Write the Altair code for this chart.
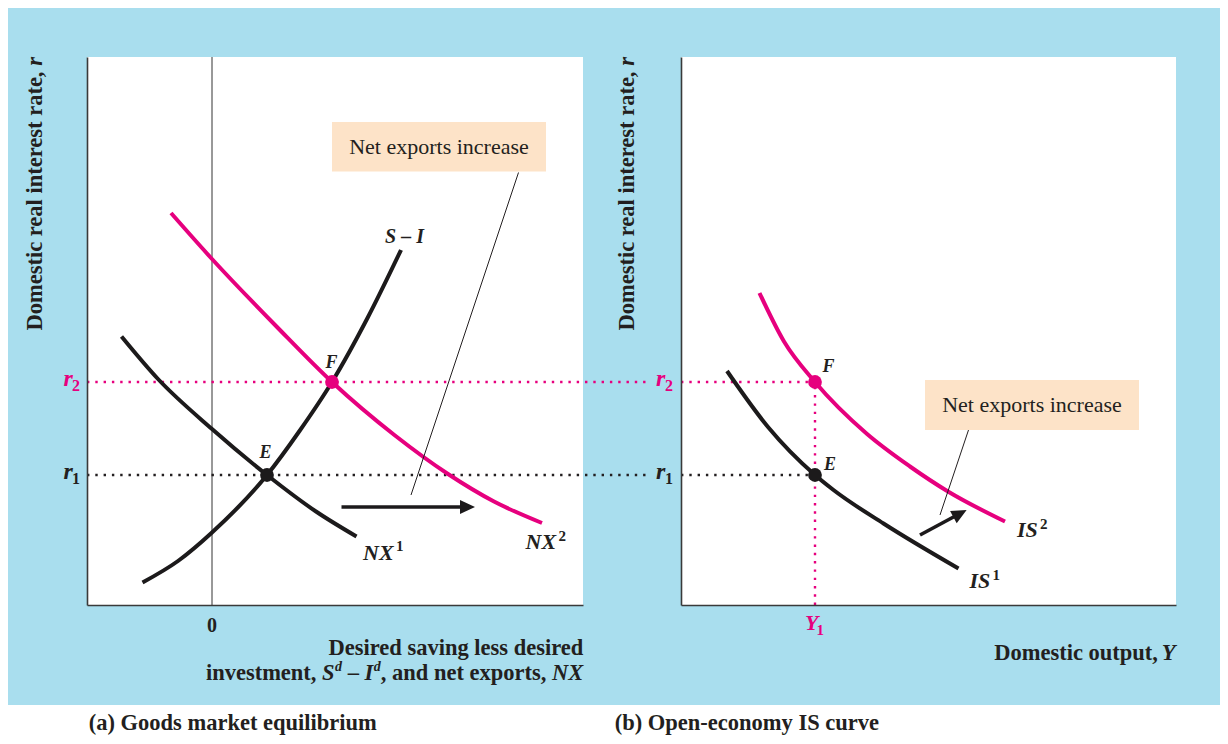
import altair as alt
import pandas as pd

# ---------------- data ----------------
# Panel (a): goods market equilibrium
si_x = [-1.39, -0.68, 0.0, 1.1, 1.75, 2.4, 3.11, 3.78]
si_y = [0.45, 0.88, 1.45, 2.6, 3.48, 4.46, 5.74, 7.10]
nx1_x = [-1.81, -1.08, 0.0, 1.1, 2.08, 2.89]
nx1_y = [5.37, 4.52, 3.52, 2.6, 1.87, 1.37]
nx2_x = [-0.82, 0.0, 1.3, 2.4, 3.66, 4.72, 5.64, 6.6]
nx2_y = [7.84, 6.92, 5.56, 4.46, 3.39, 2.62, 2.07, 1.64]

# Panel (b): open-economy IS curve
is1_x = [0.92, 1.74, 2.68, 3.05, 4.05, 5.55]
is1_y = [4.68, 3.56, 2.6, 2.3, 1.63, 0.73]
is2_x = [1.57, 2.06, 2.68, 3.71, 4.58, 5.34, 6.48]
is2_y = [6.24, 5.27, 4.46, 3.43, 2.77, 2.27, 1.67]

r1 = 2.6
r2 = 4.46
E_a = 1.1
F_a = 2.4
Y1 = 2.68

XA_DOMAIN = [-2.5, 7.42]
XB_DOMAIN = [0, 9.9]
Y_DOMAIN = [0, 10.96]

# ---------------- styling ----------------
FONT = "Liberation Serif"
BLUE = "#A9DEEE"
PEACH = "#FDE3C8"
PINK = "#E6007E"
INK = "#231F20"
CURVE = "#1C1A1B"

PW_A, PW_B, PH = 496, 495, 548

AX = alt.Axis(title=None, labels=False, ticks=False, grid=False,
              domainColor="#3a3a3a", domainWidth=1.6, zindex=1)
YS = alt.Scale(domain=Y_DOMAIN, nice=False, zero=False)


def xenc(field, xs):
    return alt.X(field, type="quantitative", scale=xs, axis=AX)


def yenc(field):
    return alt.Y(field, type="quantitative", scale=YS, axis=AX)


def curve(xs_, ys_, color, xs):
    df = pd.DataFrame({"x": xs_, "y": ys_})
    return alt.Chart(df).mark_line(color=color, strokeWidth=4,
                                   interpolate="monotone").encode(
        x=xenc("x", xs), y=yenc("y"))


def segs(rows, xs, **mk):
    df = pd.DataFrame(rows, columns=["x", "y", "x2", "y2", "color"])
    return alt.Chart(df).mark_rule(**mk).encode(
        x=xenc("x", xs), y=yenc("y"), x2="x2:Q", y2="y2:Q",
        color=alt.Color("color:N", scale=None))


def dots(rows, xs):
    df = pd.DataFrame(rows, columns=["x", "y", "color"])
    return alt.Chart(df).mark_circle(size=190, opacity=1).encode(
        x=xenc("x", xs), y=yenc("y"), color=alt.Color("color:N", scale=None))


def heads(rows, xs):
    df = pd.DataFrame(rows, columns=["x", "y", "ang"])
    return alt.Chart(df).mark_point(
        shape="M -1 -0.93 L 1 0 L -1 0.93 Z", filled=True, size=225,
        color=CURVE, opacity=1, strokeWidth=0).encode(
        x=xenc("x", xs), y=yenc("y"), angle=alt.Angle("ang:Q", scale=None))


def box(rows, xs):
    df = pd.DataFrame(rows, columns=["x", "y", "x2", "y2"])
    return alt.Chart(df).mark_rect(color=PEACH).encode(
        x=xenc("x", xs), y=yenc("y"), x2="x2:Q", y2="y2:Q")


def texts(rows, xs):
    cols = ["text", "x", "y", "color", "size", "weight", "style", "align", "angle"]
    df = pd.DataFrame(rows, columns=cols)
    layers = []
    for key, g in df.groupby(["size", "weight", "style", "align", "angle"]):
        size, weight, style, align, angle = key
        layers.append(
            alt.Chart(g.reset_index(drop=True)).mark_text(
                font=FONT, fontSize=float(size), fontWeight=str(weight),
                fontStyle=str(style), align=str(align), angle=float(angle),
                baseline="alphabetic").encode(
                x=xenc("x", xs), y=yenc("y"), text="text:N",
                color=alt.Color("color:N", scale=None)))
    return layers


one = pd.DataFrame({"k": [0]})

# ---------------- panel (a) ----------------
XA = alt.Scale(domain=XA_DOMAIN, nice=False, zero=False)

bg = alt.Chart(one).mark_rect(color=BLUE).encode(
    x=alt.value(-79), x2=alt.value(1133), y=alt.value(-49), y2=alt.value(648))
white_a = alt.Chart(one).mark_rect(color="white").encode(
    x=alt.value(0), x2=alt.value(PW_A), y=alt.value(0), y2=alt.value(PH))

zero_line = segs([[0, 0, 0, Y_DOMAIN[1], "#333333"]], XA, strokeWidth=1)
dotted_a = segs([[XA_DOMAIN[0], r2, 8.76, r2, PINK],
                 [XA_DOMAIN[0], r1, 8.76, r1, INK]], XA,
                strokeDash=[2.4, 5.9], strokeWidth=2.4)
leader_a = segs([[6.13, 8.65, 3.98, 2.2, INK]], XA, strokeWidth=1)
shaft_a = segs([[2.59, 1.96, 5.11, 1.96, CURVE]], XA, strokeWidth=3.6)
head_a = heads([[5.11, 1.96, 0]], XA)
box_a = box([[2.4, 9.66, 6.68, 8.67]], XA)
pts_a = dots([[E_a, r1, CURVE], [F_a, r2, PINK]], XA)

N, B, I = "normal", "bold", "italic"
txt_a = [
    ["Net exports increase", 4.54, 9.03, INK, 22, N, N, "center", 0],
    ["S – I", 3.85, 7.25, INK, 20, B, I, "center", 0],
    ["E", 1.07, 2.95, INK, 18, B, I, "center", 0],
    ["F", 2.39, 4.75, INK, 18, B, I, "center", 0],
    ["NX", 3.02, 0.90, INK, 22, B, I, "left", 0],
    ["1", 3.68, 1.08, INK, 15, B, N, "left", 0],
    ["NX", 6.27, 1.12, INK, 22, B, I, "left", 0],
    ["2", 6.93, 1.28, INK, 15, B, N, "left", 0],
    ["0", 0.0, -0.534, INK, 20, B, N, "center", 0],
    ["r", -2.97, 4.39, PINK, 24, B, I, "left", 0],
    ["2", -2.80, 4.29, PINK, 16, B, N, "left", 0],
    ["r", -2.97, 2.52, INK, 24, B, I, "left", 0],
    ["1", -2.80, 2.42, INK, 16, B, N, "left", 0],
    # axis titles
    ["r", -3.41, 10.96, INK, 22.5, B, I, "right", 270],
    ["Domestic real interest rate,", -3.41, 10.67, INK, 22.5, B, N, "right", 270],
    ["Desired saving less desired", 7.426, -1.00, INK, 22.5, B, N, "right", 0],
    ["investment,", 2.09, -1.50, INK, 22.5, B, N, "right", 0],
    ["S", 2.452, -1.50, INK, 22.5, B, I, "right", 0],
    ["d", 2.602, -1.32, INK, 14, B, I, "right", 0],
    ["–", 2.826, -1.50, INK, 22.5, B, N, "center", 0],
    ["I", 3.226, -1.50, INK, 22.5, B, I, "right", 0],
    ["d", 3.376, -1.32, INK, 14, B, I, "right", 0],
    [", and net exports,", 6.688, -1.50, INK, 22.5, B, N, "right", 0],
    ["NX", 7.426, -1.50, INK, 22.5, B, I, "right", 0],
    # caption
    ["(a) Goods market equilibrium", -2.466, -2.50, INK, 22.5, B, N, "left", 0],
]

left = alt.layer(
    bg, white_a, zero_line, dotted_a,
    curve(si_x, si_y, CURVE, XA), curve(nx1_x, nx1_y, CURVE, XA),
    curve(nx2_x, nx2_y, PINK, XA),
    leader_a, shaft_a, head_a, box_a, pts_a,
    *texts(txt_a, XA)
).properties(width=PW_A, height=PH)

# ---------------- panel (b) ----------------
XB = alt.Scale(domain=XB_DOMAIN, nice=False, zero=False)

dotted_b = segs([[0, r2, Y1, r2, PINK],
                 [0, r1, Y1, r1, INK],
                 [Y1, 0, Y1, r2, PINK]], XB,
                strokeDash=[2.4, 5.9], strokeWidth=2.4)
leader_b = segs([[5.75, 3.5, 5.18, 1.8, INK]], XB, strokeWidth=1)
shaft_b = segs([[4.78, 1.40, 5.58, 1.83, CURVE]], XB, strokeWidth=3.6)
head_b = heads([[5.58, 1.83, 331.8]], XB)
box_b = box([[4.88, 4.5, 9.16, 3.5]], XB)
pts_b = dots([[Y1, r1, CURVE], [Y1, r2, PINK]], XB)

txt_b = [
    ["Net exports increase", 7.02, 3.87, INK, 22, N, N, "center", 0],
    ["F", 2.95, 4.67, INK, 18, B, I, "center", 0],
    ["E", 2.98, 2.70, INK, 18, B, I, "center", 0],
    ["IS", 6.72, 1.37, INK, 22, B, I, "left", 0],
    ["2", 7.18, 1.53, INK, 15, B, N, "left", 0],
    ["IS", 5.77, 0.35, INK, 22, B, I, "left", 0],
    ["1", 6.23, 0.50, INK, 15, B, N, "left", 0],
    ["r", -0.50, 4.39, PINK, 24, B, I, "left", 0],
    ["2", -0.32, 4.29, PINK, 16, B, N, "left", 0],
    ["r", -0.50, 2.52, INK, 24, B, I, "left", 0],
    ["1", -0.32, 2.42, INK, 16, B, N, "left", 0],
    ["Y", 2.48, -0.50, PINK, 22, B, I, "left", 0],
    ["1", 2.71, -0.60, PINK, 15, B, N, "left", 0],
    # axis titles
    ["r", -0.946, 10.96, INK, 22.5, B, I, "right", 270],
    ["Domestic real interest rate,", -0.946, 10.67, INK, 22.5, B, N, "right", 270],
    ["Domestic output,", 9.54, -1.10, INK, 22.5, B, N, "right", 0],
    ["Y", 9.89, -1.10, INK, 22.5, B, I, "right", 0],
    # caption
    ["(b) Open-economy IS curve", -1.326, -2.50, INK, 22.5, B, N, "left", 0],
]

right = alt.layer(
    dotted_b,
    curve(is1_x, is1_y, CURVE, XB), curve(is2_x, is2_y, PINK, XB),
    leader_b, shaft_b, head_b, box_b, pts_b,
    *texts(txt_b, XB)
).properties(width=PW_B, height=PH)

chart = alt.hconcat(left, right, spacing=98, bounds="flush", padding=0).configure(
    font=FONT, background="white"
).configure_view(fill="white", strokeWidth=0)

chart.save("out.html", embed_options={"renderer": "svg", "actions": False})
